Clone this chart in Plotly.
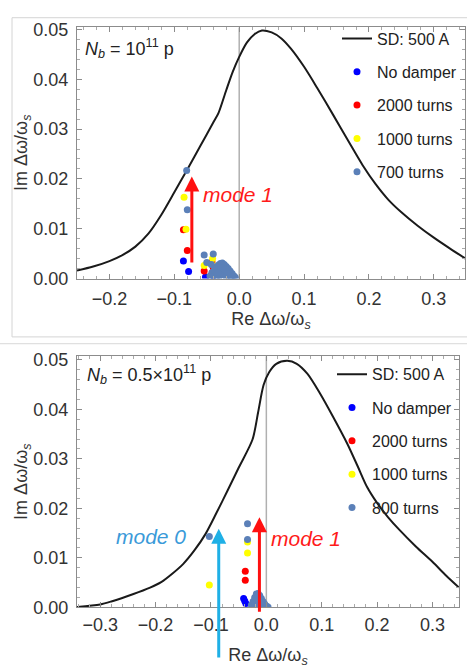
import plotly.graph_objects as go

# ---------------- data: top panel (N_b = 1e11 p) ----------------
sd_top_x = [-0.25, -0.225, -0.2, -0.18, -0.16, -0.14, -0.12, -0.1, -0.08, -0.06, -0.04, -0.032,
            -0.02, -0.01, 0.0, 0.012, 0.024, 0.035, 0.05, 0.065, 0.08, 0.1, 0.12, 0.145, 0.17,
            0.19, 0.21, 0.23, 0.25, 0.275, 0.3, 0.325, 0.35]
sd_top_y = [0.0016, 0.0024, 0.0035, 0.0047, 0.0064, 0.0090, 0.0128, 0.0173, 0.0219, 0.0266,
            0.0313, 0.0332, 0.0378, 0.0415, 0.0445, 0.0474, 0.0491, 0.0498, 0.0494, 0.0482,
            0.0461, 0.0425, 0.0383, 0.0328, 0.0272, 0.0228, 0.0190, 0.0158, 0.0133, 0.0106,
            0.0082, 0.0060, 0.0039]

top_nodamp_x = [-0.086, -0.078, -0.052, -0.040]
top_nodamp_y = [0.0035, 0.0014, 0.0003, 0.0006]
top_2000_x = [-0.086, -0.080, -0.054, -0.042, -0.040]
top_2000_y = [0.0098, 0.0056, 0.0015, 0.0033, 0.0022]
top_1000_x = [-0.085, -0.082, -0.054, -0.041, -0.038]
top_1000_y = [0.0163, 0.0099, 0.0026, 0.0040, 0.0025]
top_700_x = [-0.081, -0.080, -0.054, -0.040, -0.050, -0.043,
             -0.045, -0.042, -0.038, -0.035, -0.032, -0.029, -0.026, -0.023, -0.020, -0.017,
             -0.014, -0.011, -0.008, -0.006, -0.040, -0.035, -0.030, -0.025, -0.020, -0.015,
             -0.030, -0.025, -0.020, -0.012, -0.035, -0.028, -0.022, -0.018, -0.033]
top_700_y = [0.0217, 0.0138, 0.0047, 0.0049, 0.0032, 0.0028,
             0.0005, 0.0012, 0.0018, 0.0023, 0.0027, 0.0030, 0.0031, 0.0028, 0.0024, 0.0020,
             0.0015, 0.0010, 0.0005, 0.0002, 0.0005, 0.0010, 0.0015, 0.0020, 0.0012, 0.0006,
             0.0005, 0.0008, 0.0003, 0.0003, 0.0003, 0.0022, 0.0018, 0.0010, 0.0012]

# ---------------- data: bottom panel (N_b = 0.5e11 p) ----------------
sd_bot_x = [-0.342, -0.3, -0.28, -0.24, -0.21, -0.19, -0.17, -0.15, -0.13, -0.11, -0.09, -0.07,
            -0.05, -0.025, -0.015, -0.005, 0.005, 0.018, 0.038, 0.055, 0.074, 0.097, 0.12, 0.146,
            0.165, 0.182, 0.2, 0.22, 0.24, 0.27, 0.3, 0.325, 0.348]
sd_bot_y = [0.0001, 0.0006, 0.0012, 0.0027, 0.0040, 0.0051, 0.0068, 0.0088, 0.0115, 0.0148,
            0.0191, 0.0236, 0.0282, 0.0339, 0.0393, 0.0449, 0.0475, 0.0492, 0.0498, 0.0492,
            0.0472, 0.0432, 0.0386, 0.0331, 0.0285, 0.0243, 0.0211, 0.0182, 0.0157, 0.0123,
            0.0092, 0.0064, 0.0040]

bot_nodamp_x = [-0.041, -0.037, -0.039]
bot_nodamp_y = [0.0018, 0.0008, 0.0013]
bot_2000_x = [-0.038, -0.038, -0.022]
bot_2000_y = [0.0073, 0.0055, 0.0012]
bot_1000_x = [-0.103, -0.034, -0.034, -0.015]
bot_1000_y = [0.0045, 0.0110, 0.0132, 0.0018]
bot_800_x = [-0.103, -0.034, -0.034,
             -0.027, -0.024, -0.021, -0.018, -0.015, -0.012, -0.009, -0.006, -0.003, 0.000,
             0.003, -0.020, -0.015, -0.012, -0.008, -0.016, -0.010]
bot_800_y = [0.0143, 0.0169, 0.0137,
             0.0005, 0.0012, 0.0020, 0.0027, 0.0028, 0.0024, 0.0018, 0.0012, 0.0007, 0.0003,
             0.0001, 0.0006, 0.0012, 0.0008, 0.0005, 0.0020, 0.0013]

x_ticks_top = [-0.2, -0.1, 0.0, 0.1, 0.2, 0.3]
x_ticks_bot = [-0.3, -0.2, -0.1, 0.0, 0.1, 0.2, 0.3]
y_ticks = [0.0, 0.01, 0.02, 0.03, 0.04, 0.05]

# ---------------- styling ----------------
W, H = 467, 668
FONT = "Liberation Sans"
C_BLUE, C_RED, C_YEL, C_STEEL = "#0000ff", "#ff0000", "#ffff00", "#5b80b8"
MS = 7

def px(v):  # horizontal pixel -> paper
    return v / W

def py(v):  # vertical pixel (from top) -> paper
    return 1 - v / H

fig = go.Figure()

def add_panel(xa, ya, leg, sdx, sdy, series):
    fig.add_trace(go.Scatter(x=sdx, y=sdy, mode="lines",
                             line=dict(color="#1a1a1a", width=2, shape="spline", smoothing=0.8),
                             name="SD: 500 A", xaxis=xa, yaxis=ya, legend=leg, legendgroup=leg + "sd"))
    for i, (name, xs, ys, col) in enumerate(series):
        fig.add_trace(go.Scatter(x=xs, y=ys, mode="markers", marker=dict(color=col, size=MS),
                                 name=name, xaxis=xa, yaxis=ya, legend=leg, legendgroup=leg + str(i)))

add_panel("x", "y", "legend", sd_top_x, sd_top_y, [
    ("No damper", top_nodamp_x, top_nodamp_y, C_BLUE),
    ("2000 turns", top_2000_x, top_2000_y, C_RED),
    ("1000 turns", top_1000_x, top_1000_y, C_YEL),
    ("700 turns", top_700_x, top_700_y, C_STEEL),
])
add_panel("x2", "y2", "legend2", sd_bot_x, sd_bot_y, [
    ("No damper", bot_nodamp_x, bot_nodamp_y, C_BLUE),
    ("2000 turns", bot_2000_x, bot_2000_y, C_RED),
    ("1000 turns", bot_1000_x, bot_1000_y, C_YEL),
    ("800 turns", bot_800_x, bot_800_y, C_STEEL),
])

axis_common = dict(showgrid=False, zeroline=False, showline=True, linecolor="#8c8c8c", linewidth=1,
                   mirror="ticks", ticks="inside", ticklen=5, tickcolor="#8c8c8c",
                   tickfont=dict(family=FONT, size=18, color="#333333"),
                   minor=dict(ticks="inside", ticklen=3, tickcolor="#aaaaaa"))

title_font = dict(family=FONT, size=18, color="#333333")

fig.update_layout(
    width=W, height=H, autosize=False, margin=dict(l=0, r=0, t=0, b=0),
    paper_bgcolor="white", plot_bgcolor="white", font=dict(family=FONT),
    showlegend=True,
    xaxis=dict(axis_common, domain=[px(77), px(465)], range=[-0.25, 0.348], anchor="y",
               tickvals=x_ticks_top, tickformat=".1f", minor=dict(axis_common["minor"], dtick=0.02),
               ticklabelstandoff=4,
               title=dict(text="Re Δω/ω<sub><i>s</i></sub>", font=title_font, standoff=3)),
    yaxis=dict(axis_common, domain=[py(278), py(20)], range=[0, 0.0504], anchor="x",
               tickvals=y_ticks, tickformat=".2f", minor=dict(axis_common["minor"], dtick=0.002),
               ticklabelstandoff=4),
    xaxis2=dict(axis_common, domain=[px(77), px(459)], range=[-0.342, 0.348], anchor="y2",
                tickvals=x_ticks_bot, tickformat=".1f", minor=dict(axis_common["minor"], dtick=0.02),
                ticklabelstandoff=1,
                title=dict(text="Re Δω/ω<sub><i>s</i></sub>", font=title_font, standoff=18)),
    yaxis2=dict(axis_common, domain=[py(616), py(358)], range=[0, 0.0507], anchor="x2",
                tickvals=y_ticks, tickformat=".2f", minor=dict(axis_common["minor"], dtick=0.002),
                ticklabelstandoff=4),
    legend=dict(x=px(337), y=py(14), xanchor="left", yanchor="top", bgcolor="rgba(0,0,0,0)",
                font=dict(family=FONT, size=16, color="#222222"), tracegroupgap=9.5, itemwidth=30),
    legend2=dict(x=px(332), y=py(359), xanchor="left", yanchor="top", bgcolor="rgba(0,0,0,0)",
                 font=dict(family=FONT, size=16, color="#222222"), tracegroupgap=9.5, itemwidth=30),
)

# y-axis titles (placed as rotated text)
fig.add_annotation(xref="paper", yref="y domain", x=px(23), y=0.5, xanchor="center", yanchor="middle",
                   textangle=-90, showarrow=False,
                   text="Im Δω/ω<sub><i>s</i></sub>", font=title_font)
fig.add_annotation(xref="paper", yref="y2 domain", x=px(23), y=0.5, xanchor="center", yanchor="middle",
                   textangle=-90, showarrow=False,
                   text="Im Δω/ω<sub><i>s</i></sub>", font=title_font)

# vertical zero lines and panel frames
fig.add_shape(type="line", xref="x", yref="y domain", x0=0, x1=0, y0=0, y1=1,
              line=dict(color="#b0b0b0", width=1.5), layer="below")
fig.add_shape(type="line", xref="x2", yref="y2 domain", x0=0, x1=0, y0=0, y1=1,
              line=dict(color="#b0b0b0", width=1.5), layer="below")
fig.add_shape(type="rect", xref="paper", yref="paper", x0=px(12), x1=px(480), y0=py(338), y1=py(10),
              line=dict(color="#d4d4d4", width=1))
fig.add_shape(type="line", xref="paper", yref="paper", x0=0, x1=1, y0=py(345), y1=py(345),
              line=dict(color="#d9d9d9", width=1))

# annotations
fig.add_annotation(xref="x domain", yref="paper", x=0.015, y=py(42), xanchor="left", yanchor="middle",
                   text="<i>N</i><sub><i>b</i></sub> = 10<sup>11</sup> p", showarrow=False,
                   font=dict(family=FONT, size=18, color="#222222"))
fig.add_annotation(xref="x2 domain", yref="paper", x=0.02, y=py(377), xanchor="left", yanchor="middle",
                   text="<i>N</i><sub><i>b</i></sub> = 0.5×10<sup>11</sup> p", showarrow=False,
                   font=dict(family=FONT, size=18, color="#222222"))

# arrows
fig.add_annotation(xref="x", yref="y", axref="x", ayref="y", x=-0.073, y=0.0205, ax=-0.073, ay=0.0029,
                   showarrow=True, arrowhead=2, arrowsize=1, arrowwidth=3, arrowcolor="#ff1010", text="")
fig.add_annotation(xref="x", yref="y", x=-0.002, y=0.0168, text="<i>mode 1</i>", showarrow=False,
                   font=dict(family=FONT, size=21, color="#ff1a1a"))
fig.add_annotation(xref="x2", yref="y2", axref="x2", ayref="y2", x=-0.086, y=0.0159, ax=-0.086, ay=-0.0104,
                   showarrow=True, arrowhead=2, arrowsize=1, arrowwidth=3, arrowcolor="#1fb0e6", text="")
fig.add_annotation(xref="x2", yref="y2", axref="x2", ayref="y2", x=-0.0125, y=0.0182, ax=-0.0125, ay=-0.0012,
                   showarrow=True, arrowhead=2, arrowsize=1, arrowwidth=3, arrowcolor="#ff1010", text="")
fig.add_annotation(xref="x2", yref="y2", x=-0.209, y=0.0143, text="<i>mode 0</i>", showarrow=False,
                   font=dict(family=FONT, size=21, color="#3a9ad9"))
fig.add_annotation(xref="x2", yref="y2", x=0.072, y=0.0139, text="<i>mode 1</i>", showarrow=False,
                   font=dict(family=FONT, size=21, color="#ff1a1a"))

fig.write_html("out.html")
